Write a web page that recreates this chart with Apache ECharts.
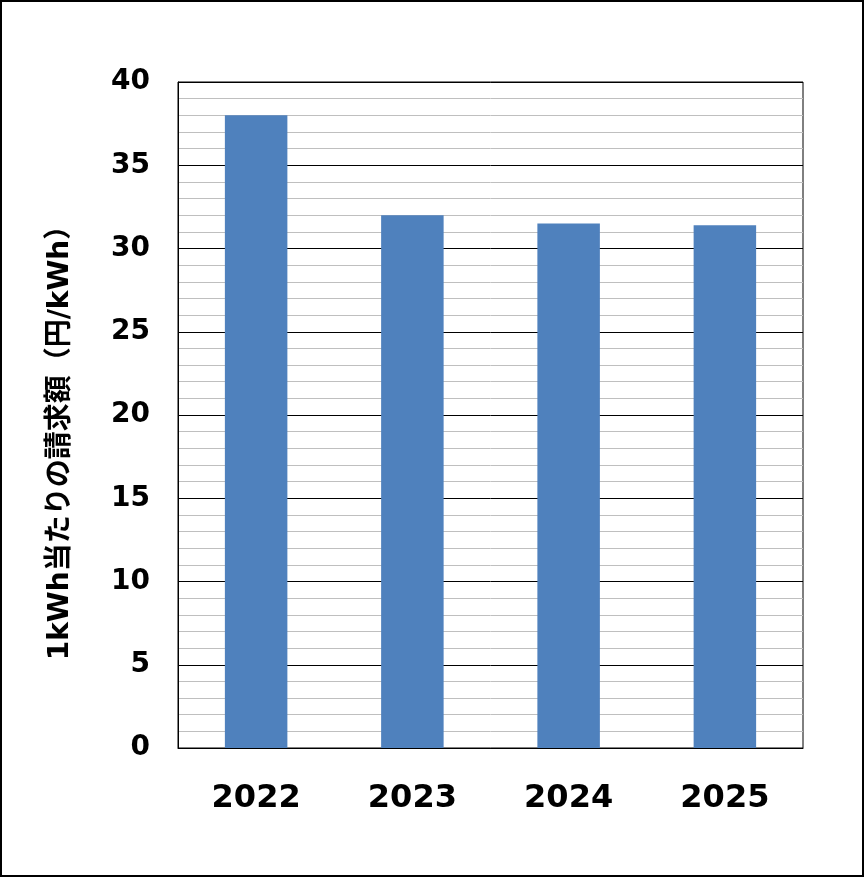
<!DOCTYPE html>
<html>
<head>
<meta charset="utf-8">
<script src="https://cdn.jsdelivr.net/npm/echarts@6/dist/echarts.min.js"></script>
<style>
html,body{margin:0;padding:0;background:#fff;}
#c{width:864px;height:877px;}
</style>
</head>
<body>
<div id="c"></div>
<script>
const categories = ['2022', '2023', '2024', '2025'];
const values = [38.0, 32.0, 31.5, 31.4];
const yAxisName = '1kWh当たりの請求額（円/kWh）';

const chart = echarts.init(document.getElementById('c'), null, {renderer: 'canvas'});
const fontFam = '"DejaVu Sans", Verdana, "Noto Sans CJK JP", sans-serif';
chart.setOption({
  animation: false,
  backgroundColor: '#fff',
  graphic: [{
    type: 'rect', silent: true, z: 100,
    shape: {x: 1, y: 1, width: 862, height: 875},
    style: {fill: 'none', stroke: '#000', lineWidth: 2}
  }],
  grid: {left: 178, right: 61, top: 82, bottom: 129, show: true, borderColor: '#000', borderWidth: 1, backgroundColor: 'transparent'},
  xAxis: {
    type: 'category', data: categories,
    axisLine: {show: true, lineStyle: {color: '#000', width: 1}},
    axisTick: {show: false},
    axisLabel: {color: '#000', fontSize: 32, fontWeight: 'bold', fontFamily: fontFam, margin: 35}
  },
  yAxis: {
    type: 'value', min: 0, max: 40, interval: 5,
    name: yAxisName, nameLocation: 'middle', nameGap: 103, nameRotate: 90,
    nameTextStyle: {color: '#000', fontSize: 28, fontWeight: 'bold', fontFamily: fontFam, padding: [0, 42, 0, 0]},
    axisLine: {show: true, lineStyle: {color: '#000', width: 1}},
    axisTick: {show: false},
    axisLabel: {color: '#000', fontSize: 28, fontWeight: 'bold', fontFamily: fontFam, margin: 28},
    splitLine: {show: true, lineStyle: {color: '#000', width: 1}},
    minorTick: {show: false, splitNumber: 5},
    minorSplitLine: {show: true, lineStyle: {color: '#bfbfbf', width: 1}}
  },
  series: [{
    type: 'bar', data: values, barCategoryGap: '60%',
    itemStyle: {color: '#4f81bd'}
  }]
});
</script>
</body>
</html>
